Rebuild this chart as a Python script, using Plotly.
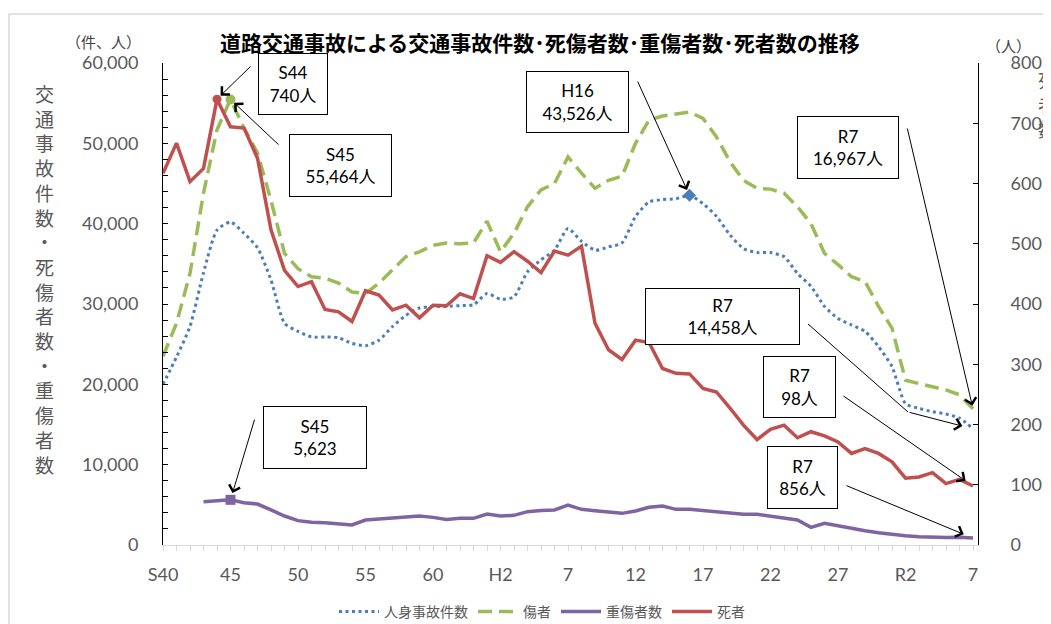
import plotly.graph_objects as go

# ---------------- data ----------------
years = list(range(1965, 2026))  # S40 .. R7
tick_years = [1965, 1970, 1975, 1980, 1985, 1990, 1995, 2000, 2005, 2010, 2015, 2020, 2025]
tick_labels = ["S40", "45", "50", "55", "60", "H2", "7", "12", "17", "22", "27", "R2", "7"]

# 人身事故件数
accidents = [20000, 23400, 27200, 33900, 39200, 40200, 38800, 37000, 33000, 27600,
             26600, 25900, 25900, 25800, 25100, 24800, 25500, 27200, 28600, 29500,
             29700, 29700, 29800, 29900, 31300, 30600, 30900, 34000, 35500, 36700,
             39400, 37800, 36700, 37100, 37600, 40900, 42700, 43000, 43100, 43526,
             42500, 40900, 38600, 36900, 36400, 36400, 35900, 33800, 32200, 29700,
             28200, 27400, 26600, 24700, 22200, 17600, 17000, 16600, 16300, 15800,
             14458]
# 傷者
injured = [23500, 27600, 33800, 43800, 51700, 55464, 51900, 48800, 42900, 36300,
           34400, 33400, 33200, 32600, 31500, 31300, 32600, 34200, 35900, 36500,
           37300, 37600, 37500, 37600, 40300, 36500, 38800, 42100, 44200, 45000,
           48300, 46300, 44400, 45400, 45900, 50000, 52900, 53400, 53600, 53900,
           53100, 50800, 47700, 45400, 44400, 44300, 43800, 42100, 40000, 36300,
           34900, 33400, 32800, 29700, 27000, 20500, 20100, 19700, 19300, 18700,
           16967]
# 重傷者数 (from S43)
serious = [None, None, None, 5390, 5520, 5623, 5270, 5100, 4360, 3610,
           3030, 2820, 2770, 2610, 2490, 3110, 3240, 3440, 3570, 3610,
           3440, 3190, 3320, 3320, 3860, 3610, 3690, 4150, 4280, 4360,
           4980, 4440, 4270, 4150, 3940, 4230, 4690, 4860, 4440, 4440,
           4270, 4070, 3940, 3820, 3820, 3610, 3400, 3110, 2200, 2700,
           2400, 2070, 1780, 1530, 1330, 1160, 1040, 950, 920, 950,
           856]
# 死者 (right axis)
deaths = [617, 667, 603, 625, 740, 694, 692, 642, 523, 456,
          429, 437, 391, 387, 371, 422, 415, 390, 398, 377,
          398, 397, 417, 409, 480, 469, 487, 471, 452, 488,
          481, 496, 368, 324, 308, 340, 336, 293, 285, 284,
          260, 254, 227, 199, 175, 192, 199, 178, 188, 181,
          171, 152, 160, 152, 138, 111, 113, 120, 102, 109,
          98]

# ---------------- layout helpers ----------------
OFF = 8                      # page body margin of the html page
W, H = 1051 - OFF, 624 - OFF
PL, PT, PR, PB = 163, 63, 978, 545   # plot area in reference pixels
PW, PH = PR - PL, PB - PT
L, T = PL - OFF, PT - OFF
R, B = W - L - PW, H - T - PH
X0, X1 = 1965, 2025 + 5 / 13.5
Y1MAX, Y2MAX = 60000, 800

def px(x):
    return (x - PL) / PW

def py(y):
    return (PB - y) / PH

def xd(x):
    return X0 + (x - PL) / PW * (X1 - X0)

def yd(y):
    return (PB - y) / PH * Y1MAX

def y2d(y):
    return (PB - y) / PH * Y2MAX

FONT = "Lato, 'Noto Sans CJK JP', sans-serif"
JP = "'Noto Sans CJK JP', sans-serif"
GRAY = "#595959"
BLUE, GREEN, PURPLE, RED = "#4A7EBB", "#9BBB59", "#8064A2", "#C0504D"

fig = go.Figure()
fig.add_trace(go.Scatter(x=years, y=accidents, name="人身事故件数", mode="lines",
                         line=dict(color=BLUE, width=3, dash="3px,3.5px", shape="spline", smoothing=0.6)))
fig.add_trace(go.Scatter(x=years, y=injured, name="傷者", mode="lines",
                         line=dict(color=GREEN, width=3.5, dash="14px,7px")))
fig.add_trace(go.Scatter(x=years, y=serious, name="重傷者数", mode="lines",
                         line=dict(color=PURPLE, width=3.5)))
fig.add_trace(go.Scatter(x=years, y=deaths, name="死者", mode="lines", yaxis="y2",
                         line=dict(color=RED, width=3.5)))

# highlighted points
i44 = years.index(1969)
i45 = years.index(1970)
i16 = years.index(2004)
fig.add_trace(go.Scatter(x=[years[i45]], y=[injured[i45]], mode="markers", showlegend=False,
                         marker=dict(color=GREEN, size=10, symbol="circle")))
fig.add_trace(go.Scatter(x=[years[i16]], y=[accidents[i16]], mode="markers", showlegend=False,
                         marker=dict(color=BLUE, size=10, symbol="diamond")))
fig.add_trace(go.Scatter(x=[years[i45]], y=[serious[i45]], mode="markers", showlegend=False,
                         marker=dict(color=PURPLE, size=10, symbol="square")))
fig.add_trace(go.Scatter(x=[years[i44]], y=[deaths[i44]], mode="markers", showlegend=False, yaxis="y2",
                         marker=dict(color=RED, size=9, symbol="circle")))

annotations = []

def label(x, y, text, size, color, family=JP, xanchor="center", **kw):
    d = dict(x=px(x), y=py(y), xref="paper", yref="paper", showarrow=False,
             xanchor=xanchor, yanchor="middle", text=text,
             font=dict(family=family, size=size, color=color))
    d.update(kw)
    return d

# title
annotations.append(label(540, 42, "<b>道路交通事故による交通事故件数･死傷者数･重傷者数･死者数の推移</b>",
                         21, "black"))
# unit labels
annotations.append(label(103, 42, "（件、人）", 15, "#404040"))
annotations.append(label(1008, 46, "（人）", 15, "#404040"))
# axis titles (vertical, stacked)
left_title = "交通事故件数・死傷者数・重傷者数"
annotations.append(label(44, 279, "<br>".join(left_title), 19, GRAY))
right_title = "死者数"
annotations.append(label(1036, 104, "<br>".join(right_title), 19, GRAY, xanchor="left"))

# callout boxes: left, top, right, bottom (reference px), text
boxes = [
    (258, 53, 328, 115, "S44<br>740人"),
    (289, 134, 392, 197, "S45<br>55,464人"),
    (526, 71, 629, 133, "H16<br>43,526人"),
    (797, 116, 899, 179, "R7<br>16,967人"),
    (645, 288, 800, 345, "R7<br>14,458人"),
    (763, 356, 836, 418, "R7<br>98人"),
    (767, 446, 838, 509, "R7<br>856人"),
    (263, 406, 367, 469, "S45<br>5,623"),
]
for l, t, r, b, txt in boxes:
    annotations.append(label((l + r) / 2, (t + b) / 2, txt, 17, "black", family=FONT,
                             width=r - l - 2, height=b - t - 2, bordercolor="black",
                             borderwidth=1, borderpad=0, bgcolor="white",
                             align="center", valign="middle"))

# arrows: tail (reference px) -> data point
def arrow(x, y, tail, yref="y", standoff=5):
    conv = yd if yref == "y" else y2d
    return dict(x=x, y=y, xref="x", yref=yref, ax=xd(tail[0]), ay=conv(tail[1]),
                axref="x", ayref=yref, text="", showarrow=True, arrowhead=4,
                arrowsize=2.2, arrowwidth=1, arrowcolor="black", standoff=standoff)

annotations.append(arrow(years[i44], deaths[i44], (252, 65), "y2", 5))
annotations.append(arrow(years[i45], injured[i45], (280, 146), "y", 5))
annotations.append(arrow(years[i16], accidents[i16], (637, 80), "y", 6))
annotations.append(arrow(years[-1], injured[-1], (907, 127), "y", 3))
annotations.append(arrow(years[-1], accidents[-1], (908, 412), "y", 11))
annotations.append(arrow(years[-1], deaths[-1], (842, 395), "y2", 9))
annotations.append(arrow(years[-1], serious[-1], (845, 485), "y", 10))
annotations.append(arrow(years[i45], serious[i45], (255, 418), "y", 7))

shapes = [
    # elbow part of the 14,458 connector
    dict(type="line", xref="paper", yref="paper", x0=px(808), y0=py(324), x1=px(908), y1=py(412),
         line=dict(color="black", width=1)),
    # outer chart border (left & top)
    dict(type="line", xref="paper", yref="paper", x0=px(9), y0=py(14), x1=px(9), y1=py(640),
         line=dict(color="#d9d9d9", width=1.5)),
    dict(type="line", xref="paper", yref="paper", x0=px(9), y0=py(14), x1=px(1060), y1=py(14),
         line=dict(color="#d9d9d9", width=1.5)),
]

fig.update_layout(
    width=W, height=H,
    margin=dict(l=L, r=R, t=T, b=B, autoexpand=False),
    paper_bgcolor="white", plot_bgcolor="white",
    font=dict(family=FONT, color=GRAY),
    showlegend=True,
    legend=dict(orientation="h", x=px(542), y=py(612), xanchor="center", yanchor="middle",
                font=dict(family=JP, size=14, color=GRAY), itemwidth=40,
                bgcolor="rgba(0,0,0,0)"),
    xaxis=dict(range=[X0, X1], tickmode="array", tickvals=tick_years, ticktext=tick_labels,
               showline=True, linecolor="#d9d9d9", linewidth=1, ticks="outside", ticklen=5,
               tickcolor="#d9d9d9", showgrid=False, zeroline=False,
               minor=dict(tickmode="array", tickvals=years, ticks="outside", ticklen=5,
                          tickcolor="#d9d9d9", showgrid=False),
               tickfont=dict(family=FONT, size=18, color=GRAY), ticklabelstandoff=8),
    yaxis=dict(range=[0, Y1MAX], tickmode="linear", tick0=0, dtick=10000, tickformat=",",
               showline=True, linecolor="black", linewidth=1, ticks="inside", ticklen=5,
               tickcolor="black", showgrid=False, zeroline=False,
               minor=dict(tickmode="linear", tick0=0, dtick=2000, ticks="inside", ticklen=5,
                          tickcolor="black", showgrid=False),
               tickfont=dict(family=FONT, size=18, color=GRAY), ticklabelstandoff=20),
    yaxis2=dict(range=[0, Y2MAX], overlaying="y", side="right", tickmode="linear", tick0=0,
                dtick=100, showline=True, linecolor="black", linewidth=1, ticks="inside",
                ticklen=5, tickcolor="black", showgrid=False, zeroline=False,
                tickfont=dict(family=FONT, size=18, color=GRAY), ticklabelstandoff=28),
    annotations=annotations,
    shapes=shapes,
)

fig.write_html("out.html")
